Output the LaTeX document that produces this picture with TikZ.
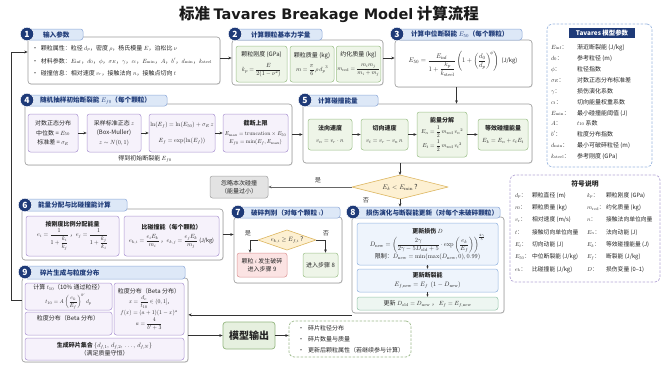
\documentclass[tikz,border=0pt]{standalone}
\usepackage{fix-cm}
\usepackage{amsmath}
\usepackage[no-math]{fontspec}
\setmainfont{Noto Sans CJK SC}
\newfontfamily\dvsans{DejaVu Sans}
\usetikzlibrary{arrows.meta,shadows}
\definecolor{navy}{HTML}{1E3A78}
\definecolor{tabfill}{HTML}{DDE8F7}
\definecolor{tabdraw}{HTML}{8FAADA}
\definecolor{mainline}{HTML}{9E9E9E}
\definecolor{gfill}{HTML}{EEF5E8}
\definecolor{gdraw}{HTML}{9DC189}
\definecolor{pfill}{HTML}{F6F2FB}
\definecolor{pdraw}{HTML}{AD96D3}
\definecolor{bfill}{HTML}{EEF4FC}
\definecolor{bdraw}{HTML}{93B4E0}
\definecolor{tfill}{HTML}{EDF6F1}
\definecolor{tdraw}{HTML}{94C5AA}
\definecolor{rfill}{HTML}{FBE3E3}
\definecolor{rdraw}{HTML}{DE9696}
\definecolor{yfill}{HTML}{FDF0D2}
\definecolor{ydraw}{HTML}{DDB65F}
\definecolor{grfill}{HTML}{E3E3E3}
\definecolor{grdraw}{HTML}{A2A2A2}
\definecolor{txt}{HTML}{262626}
\definecolor{arrc}{HTML}{333333}
\definecolor{dblue}{HTML}{9BB7E0}
\definecolor{dpurp}{HTML}{B5A5D6}
\definecolor{dgreen}{HTML}{9DBA8B}
\definecolor{ofill}{HTML}{E6F0DF}
\definecolor{odraw}{HTML}{93B67F}
\definecolor{titlec}{HTML}{1A1A1A}
% all sizes are given in reference pixels and scaled by 1.8
\newcommand{\fsz}[2]{\fontsize{\fpeval{1.8*#1}}{\fpeval{1.8*#2}}\selectfont}
\newcommand{\mf}[2]{{\fsz{#1}{7.5}$#2$}}
\newcommand{\bx}[7]{\node[#2,minimum width={(#5-#3)*1.8pt},minimum height={(#6-#4)*1.8pt}] (#1) at ({(#3+#5)/2},{(#4+#6)/2}) {#7};}
\newcommand{\tvrow}[4]{\node[tvt,anchor=base west] (#1a) at (551,#2) {#3：}; \node[tvt,anchor=base west] (#1b) at (577,#2) {#4};}
\newcommand{\syrow}[6]{\node[syt,anchor=base west] (#1a) at (515,#2) {#3：}; \node[syt,anchor=base west] (#1b) at (532,#2) {#4}; \node[syt,anchor=base west] (#1c) at (587,#2) {#5：}; \node[syt,anchor=base west] (#1d) at (606,#2) {#6};}
\begin{document}
\begin{tikzpicture}[x=1.8pt,y=-1.8pt,
  every node/.style={text=txt, inner sep=1.8pt},
  mainbox/.style={draw=mainline, fill=white, rounded corners=5.4pt, line width=1.17pt, drop shadow={shadow xshift=1.26pt, shadow yshift=-1.26pt, opacity=0.18}},
  tab/.style={draw=tabdraw, fill=tabfill, rounded corners=4.5pt, line width=0.9pt, inner sep=0pt},
  tabt/.style={font=\fsz{6.6}{7.5}\bfseries, text=navy, inner sep=0pt, anchor=west},
  badge/.style={circle, fill=navy, text=white, font=\fsz{8.5}{9}\bfseries, minimum size=24.3pt, inner sep=0pt, draw=white, line width=0.9pt},
  gbox/.style={draw=gdraw, fill=gfill, rounded corners=4.5pt, line width=0.9pt, align=center, font=\fsz{6}{7.5}},
  pbox/.style={draw=pdraw, fill=pfill, rounded corners=4.5pt, line width=0.9pt, align=center, font=\fsz{6}{7.5}},
  bbox/.style={draw=bdraw, fill=bfill, rounded corners=4.5pt, line width=0.9pt, align=center, font=\fsz{6}{7.5}},
  tbox/.style={draw=tdraw, fill=tfill, rounded corners=4.5pt, line width=0.9pt, align=center, font=\fsz{6}{7.5}},
  rbox/.style={draw=rdraw, fill=rfill, rounded corners=4.5pt, line width=0.9pt, align=center, font=\fsz{6}{7.5}},
  greybox/.style={draw=grdraw, fill=grfill, rounded corners=4.5pt, line width=0.9pt, align=center, font=\fsz{6}{7.5}},
  obox/.style={draw=odraw, fill=ofill, rounded corners=5.4pt, line width=1.26pt, font=\fsz{10}{11}\bfseries},
  dashb/.style={draw=dblue, dash pattern=on 4.5pt off 2.7pt, rounded corners=9pt, line width=1.26pt, fill=white},
  dashp/.style={draw=dpurp, dash pattern=on 4.5pt off 2.7pt, rounded corners=9pt, line width=1.26pt, fill=white},
  dashg/.style={draw=dgreen, dash pattern=on 4.5pt off 2.7pt, rounded corners=9pt, line width=1.26pt, fill=white},
  txtn/.style={font=\fsz{6}{7.5}, inner sep=0pt},
  tvt/.style={font=\fsz{6}{7.5}, inner sep=0pt},
  syt/.style={font=\fsz{5.8}{7}, inner sep=0pt},
  lbl/.style={font=\fsz{6.2}{7}, text=black!75, inner sep=0pt},
  arr/.style={draw=arrc, line width=1.08pt, -{Stealth[length=6.1pt,width=5pt]}},
  arrs/.style={draw=arrc, line width=0.9pt, -{Stealth[length=4.3pt,width=4pt]}},
  dia/.style={draw=ydraw, fill=yfill, line width=1.08pt, line join=round}
]
\useasboundingbox (0,0) rectangle (665,374);
\fill[white] (0,0) rectangle (665,374);

% title
\node[font=\fsz{15.5}{17}\bfseries, text=titlec] (title) at (329,14) {标准 {\dvsans\fsz{14.5}{17}\bfseries Tavares Breakage Model} 计算流程};

% ---------- box 1
\bx{b1}{mainbox}{28}{37}{220}{84}{}
\bx{t1}{tab}{27}{29}{83}{40}{}
\node[tabt] (t1t) at (43,34.5) {输入参数};
\node[badge] (n1) at (27,34) {1};
\node[txtn,anchor=base west] (l1a) at (32,50) {\textbullet\ \ 颗粒属性：粒径 $d_p$，密度 $\rho$，杨氏模量 $E$，泊松比 $\nu$};
\node[txtn,anchor=base west] (l1b) at (32,63) {\textbullet\ \ 材料参数：$E_{\mathrm{inf}}$，$d_0$，$\phi$，$\sigma_E$，$\gamma$，$c_t$，$E_{\min}$，$A$，$b'$，$d_{\min}$，$k_{\mathrm{steel}}$};
\node[txtn,anchor=base west] (l1c) at (32,75) {\textbullet\ \ 碰撞信息：相对速度 $v_r$，接触法向 $n$，接触点切向 $t$};

% ---------- box 2
\bx{b2}{mainbox}{232}{40}{383}{85}{}
\bx{t2}{tab}{235}{29}{322}{40}{}
\node[tabt] (t2t) at (251,34.5) {计算颗粒基本力学量};
\node[badge] (n2) at (235,34) {2};
\bx{g2a}{gbox}{236}{46}{287}{82}{颗粒刚度 (GPa)\\[9pt]\mf{6}{k_p=\dfrac{E}{2(1-\nu^2)}}}
\bx{g2b}{gbox}{290}{46}{334}{82}{颗粒质量 (kg)\\[9pt]\mf{6}{m=\dfrac{\pi}{6}\,\rho\, {d_p}^{3}}}
\bx{g2c}{gbox}{337}{46}{380}{82}{约化质量 (kg)\\[9pt]\mf{5.8}{m_{\mathrm{red}}=\dfrac{m_im_j}{m_i+m_j}}}

% ---------- box 3
\bx{b3}{mainbox}{395}{40}{532}{87}{}
\bx{t3}{tab}{397}{29}{522}{40}{}
\node[tabt] (t3t) at (411,34.5) {计算中位断裂能 $E_{50}$（每个颗粒）};
\node[badge] (n3) at (397,34) {3};
\node[font=\fsz{6.5}{8}, inner sep=0pt] (f3) at (463,64) {\mf{6.8}{E_{50}=\dfrac{E_{\mathrm{inf}}}{1+\dfrac{k_p}{k_{\mathrm{steel}}}}\left(1+\left(\dfrac{d_0}{d_p}\right)^{\!\phi}\right)}\ \ {\fsz{5.8}{7}(J/kg)}};

% ---------- Tavares parameters
\bx{tv}{dashb}{547}{24}{652}{167}{}
\bx{tvhead}{fill=navy, text=white, font=\fsz{6.4}{7}\bfseries, inner sep=0pt}{569}{28}{635}{38}{Tavares 模型参数}
\tvrow{tva}{49}{$E_{\mathrm{inf}}$}{渐近断裂能 (J/kg)}
\tvrow{tvb}{60}{$d_0$}{参考粒径 (m)}
\tvrow{tvc}{71}{$\phi$}{粒径指数}
\tvrow{tvd}{82}{$\sigma_E$}{对数正态分布标准差}
\tvrow{tve}{93}{$\gamma$}{损伤演化系数}
\tvrow{tvf}{104}{$c_t$}{切向能量权重系数}
\tvrow{tvg}{115}{$E_{\min}$}{最小碰撞能阈值 (J)}
\tvrow{tvx}{125}{$A$}{$t_{10}$ 系数}
\tvrow{tvi}{136}{$b'$}{粒度分布指数}
\tvrow{tvj}{147}{$d_{\min}$}{最小可破碎粒径 (m)}
\tvrow{tvk}{158}{$k_{\mathrm{steel}}$}{参考刚度 (GPa)}

% ---------- symbol legend
\bx{sy}{dashp}{510}{175}{660}{282}{}
\node[font=\fsz{6.8}{8}\bfseries, inner sep=0pt] (syt) at (585,184) {符号说明};
\syrow{sa}{197}{$d_p$}{颗粒直径 (m)}{$k_p$}{颗粒刚度 (GPa)}
\syrow{sb}{209.3}{$m$}{颗粒质量 (kg)}{$m_{\mathrm{red}}$}{约化质量 (kg)}
\syrow{sc}{221.7}{$v_r$}{相对速度 (m/s)}{$n$}{接触法向单位向量}
\syrow{sd}{234}{$t$}{接触切向单位向量}{$E_n$}{法向动能 (J)}
\syrow{se}{246.3}{$E_t$}{切向动能 (J)}{$E_k$}{等效碰撞能量 (J)}
\syrow{sf}{258.7}{$E_{50}$}{中位断裂能 (J/kg)}{$E_f$}{断裂能 (J/kg)}
\syrow{sg}{271}{$e_k$}{比碰撞能 (J/kg)}{$D$}{损伤变量 (0–1)}

% ---------- box 4
\bx{b4}{mainbox}{25}{104}{292}{165}{}
\bx{t4}{tab}{27}{95}{167}{106}{}
\node[tabt] (t4t) at (40,100.5) {随机抽样初始断裂能 $E_{f0}$（每个颗粒）};
\node[badge] (n4) at (27,100) {4};
\bx{p4a}{pbox}{28}{114}{78}{152}{对数正态分布\\[3.6pt]中位数 = $E_{50}$\\[3.6pt]标准差 = $\sigma_E$}
\bx{p4b}{pbox}{87}{114}{141}{152}{采样标准正态 $z$\\[3.6pt](Box-Muller)\\[3.6pt]$z\sim N(0,1)$}
\bx{p4c}{pbox}{149}{114}{215}{152}{\mf{6}{\ln(E_f)=\ln(E_{50})+\sigma_E\, z}\\[14.4pt]\mf{6}{E_f=\exp(\ln(E_f))}}
\bx{p4d}{pbox}{223}{114}{288}{152}{\textbf{截断上限}\\[3.6pt]\mf{5.6}{E_{\max}=\mathrm{truncation}\times E_{50}}\\[1.8pt]\mf{5.6}{E_{f0}=\min(E_f,E_{\max})}}
\node[txtn] (c4) at (145,159) {得到初始断裂能 $E_{f0}$};
\draw[arr] (p4a) -- (p4b);
\draw[arr] (p4b) -- (p4c);
\draw[arr] (p4c) -- (p4d);

% ---------- box 5
\bx{b5}{mainbox}{303}{104}{532}{163}{}
\bx{t5}{tab}{305}{95}{378}{106}{}
\node[tabt] (t5t) at (318,100.5) {计算碰撞能量};
\node[badge] (n5) at (305,100) {5};
\bx{g5a}{gbox}{308}{119}{352}{150}{\textbf{法向速度}\\[9pt]\mf{6}{v_n=v_r\cdot n}}
\bx{g5b}{gbox}{361}{119}{408}{150}{\textbf{切向速度}\\[9pt]\mf{6}{v_t=v_r-v_n\, n}}
\bx{g5c}{gbox}{417}{112}{467}{157}{\textbf{能量分解}\\[3.6pt]\mf{5.8}{E_n=\dfrac{1}{2}\,m_{\mathrm{red}}\,{v_n}^{2}}\\[4.5pt]\mf{5.8}{E_t=\dfrac{1}{2}\,m_{\mathrm{red}}\,{v_t}^{2}}}
\bx{g5d}{gbox}{478}{119}{528}{150}{\textbf{等效碰撞能量}\\[9pt]\mf{6}{E_k=E_n+c_tE_t}}
\draw[arr] (g5a) -- (g5b);
\draw[arr] (g5b) -- (g5c);
\draw[arr] (g5c) -- (g5d);

% ---------- decision E_k < E_min
\coordinate (dT) at (400,175);
\coordinate (dR) at (448,187);
\coordinate (dB) at (400,199);
\coordinate (dL) at (352,187);
\draw[dia] (dT) -- (dR) -- (dB) -- (dL) -- cycle;
\node[font=\fsz{6.8}{8}, inner sep=0pt] (dtx) at (400,187) {$E_k<E_{\min}$ ?};
\bx{ig}{greybox}{210}{176}{268}{198}{忽略本次碰撞\\（能量过小）}
\node[lbl] (yes1) at (318,180) {是};
\node[lbl] (no1) at (366,200) {否};

% ---------- box 6
\bx{b6}{mainbox}{22}{209}{223}{260}{}
\bx{t6}{tab}{25}{199}{127}{211}{}
\node[tabt] (t6t) at (38,205) {能量分配与比碰撞能计算};
\node[badge] (n6) at (25,205) {6};
\bx{p6a}{pbox}{26}{216}{119}{256}{\textbf{按刚度比例分配能量}\\[1.8pt]\mf{6}{e_i=\dfrac{1}{1+\dfrac{k_i}{k_j}}}\ ，\mf{6}{e_j=\dfrac{1}{1+\dfrac{k_j}{k_i}}}}
\bx{p6b}{pbox}{124}{216}{219}{256}{\textbf{比碰撞能（每个颗粒）}\\[7.2pt]\mf{6}{e_{k,i}=\dfrac{e_iE_k}{m_i}}\ ，\mf{6}{e_{k,j}=\dfrac{e_jE_k}{m_j}}\ {\fsz{5.4}{7}(J/kg)}}

% ---------- box 7
\bx{b7}{mainbox}{234}{217}{342}{283}{}
\bx{t7}{tab}{238}{207}{340}{218}{}
\node[tabt] (t7t) at (251,212.5) {破碎判别（对每个颗粒 $i$）};
\node[badge] (n7) at (238,212) {7};
\coordinate (eT) at (287,230);
\coordinate (eR) at (316,240);
\coordinate (eB) at (287,250);
\coordinate (eL) at (258,240);
\draw[dia] (eT) -- (eR) -- (eB) -- (eL) -- cycle;
\node[font=\fsz{6.2}{7}, inner sep=0pt] (etx) at (287,240) {$e_{k,i}\ge E_{f,i}$ ?};
\node[lbl] (yes2) at (248,233) {是};
\node[lbl] (no2) at (326,233) {否};
\bx{r7}{rbox}{237}{253}{287}{277}{颗粒 $i$ 发生破碎\\进入步骤 9}
\bx{g7}{gbox}{303}{253}{338}{277}{进入步骤 8}
\draw[arr] (eL) -| ([xshift=-21.6pt]r7.north);
\draw[arr] (eR) -| ([xshift=9pt]g7.north);

% ---------- box 8
\bx{b8}{mainbox}{352}{217}{504}{313}{}
\bx{t8}{tab}{353}{207}{500}{218}{}
\node[tabt] (t8t) at (366,212.5) {损伤演化与断裂能更新（对每个未破碎颗粒）};
\node[badge] (n8) at (353,212) {8};
\bx{bl8a}{bbox}{357}{223}{498}{265}{\textbf{更新损伤 $D$}\\[0pt]\mf{6.4}{D_{\mathrm{new}}=\left(\dfrac{2\gamma}{2\gamma-5D_{\mathrm{old}}+5}\cdot\exp\left(\dfrac{e_k}{E_f}\right)\right)^{\frac{2\gamma}{5}}}\\[0pt]限制：\mf{6.2}{D_{\mathrm{new}}=\min(\max(D_{\mathrm{new}},0),0.99)}}
\bx{bl8b}{bbox}{357}{269}{498}{292}{\textbf{更新断裂能}\\[1.8pt]\mf{6.4}{E_{f,\mathrm{new}}=E_f\ \ (1-D_{\mathrm{new}})}}
\bx{tl8c}{tbox}{357}{297}{498}{310}{更新 $D_{\mathrm{old}}=D_{\mathrm{new}}$\ ，\ $E_f=E_{f,\mathrm{new}}$}
\draw[arrs] (bl8a) -- (bl8b);
\draw[arrs] (bl8b) -- (tl8c);

% ---------- box 9
\bx{b9}{mainbox}{22}{278}{188}{362}{}
\bx{t9}{tab}{25}{266}{185}{279}{}
\node[tabt] (t9t) at (40,272.5) {碎片生成与粒度分布};
\node[badge] (n9) at (25,272) {9};
\bx{p9a}{pbox}{25}{283}{112}{310}{计算 $t_{10}$（10\% 通过粒径）\\[5.4pt]\mf{5.6}{t_{10}=A\left(\dfrac{e_k}{E_f}\right)^{b'} d_p}}
\bx{p9b}{pbox}{25}{312}{112}{335}{}
\node[txtn] (p9bt) at (68,318) {粒度分布（Beta 分布）};
\bx{p9c}{pbox}{114}{283}{184}{335}{粒度分布（Beta 分布）\\[1.8pt]\mf{5.8}{x=\dfrac{d_c}{t_{10}}\in(0,1]},\\[1.8pt]\mf{5.8}{f(x)=(a+1)(1-x)^a}\\[1.8pt]\mf{5.8}{a=\dfrac{4}{b'+3}}}
\bx{p9d}{pbox}{25}{338}{184}{360}{\textbf{生成碎片集合}\ \mf{6.4}{\{d_{f,1},\,d_{f,2},\,\ldots,\,d_{f,N}\}}\\（满足质量守恒）}

% ---------- model output
\bx{out}{obox}{223}{322}{275}{349}{模型输出}
\bx{ol}{dashg}{289}{321}{411}{357}{}
\node[txtn,anchor=base west] (o1) at (298,330) {\textbullet\ \ \ 碎片粒径分布};
\node[txtn,anchor=base west] (o2) at (298,341) {\textbullet\ \ \ 碎片数量与质量};
\node[txtn,anchor=base west] (o3) at (298,352) {\textbullet\ \ \ 更新后颗粒属性（若继续参与计算）};

% ---------- connectors
\coordinate (a12) at ([yshift=4.5pt]b1.east);
\draw[arr] (a12) -- (a12 -| b2.west);
\coordinate (a23) at ([yshift=8.1pt]b2.east);
\draw[arr] (a23) -- (a23 -| b3.west);
\coordinate (a35) at ([xshift=-12.6pt]b3.south);
\draw[arr] (a35) -- (a35 |- b5.north);
\draw[arr] (b4.east) -- (b4.east -| b5.west);
\draw[arr] (dT |- b5.south) -- (dT);
\draw[arr, draw=black!60, line width=1.6pt] (dL) -- (dL -| ig.east);
\draw[arr] (dB) -- (dB |- t8.north);
\draw[arr] (b6.east) -- (b6.east -| b7.west);
\coordinate (a89) at ([yshift=-2.7pt]b8.south west);
\draw[arr] (a89) -- (a89 -| b9.east);
\draw[arr] (out.west -| b9.east) -- (out.west);
\draw[arr] (out.east) -- (out.east -| ol.west);
\coordinate (a91) at ([yshift=36pt]b9.west);
\coordinate (a19) at ([yshift=15.3pt]b1.west);
\draw[arr] (a91) -- ++(-10,0) |- (a19);
\end{tikzpicture}
\end{document}
